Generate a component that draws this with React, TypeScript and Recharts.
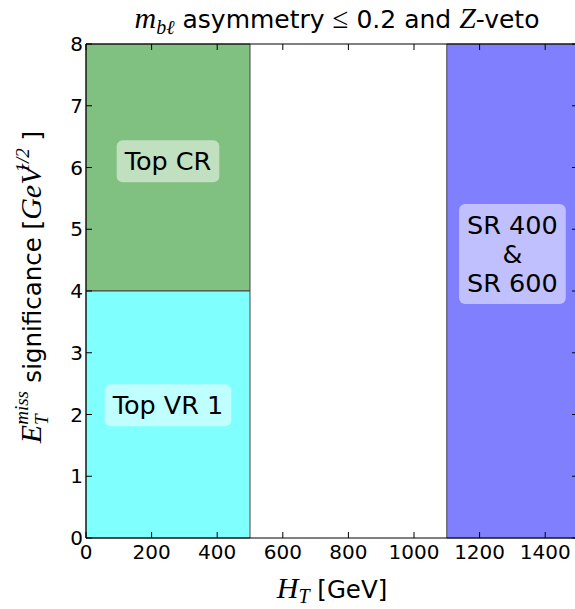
import { ComposedChart, XAxis, YAxis, ReferenceArea, ReferenceLine, Scatter } from 'recharts';

// regions of the (H_T, MET significance) plane
const regionNames = ['Top CR', 'Top VR 1', 'SR 400\n&\nSR 600'];
const regionX1 = [0, 0, 1100];
const regionX2 = [500, 500, 1500];
const regionY1 = [4, 0, 0];
const regionY2 = [8, 4, 8];
const regionColors = ['#80c080', '#80ffff', '#8080ff'];
const labelX = [250, 250, 1300];
const labelY = [6.1, 2.15, 4.6];

const xTicks = [0, 200, 400, 600, 800, 1000, 1200, 1400];
const yTicks = [0, 1, 2, 3, 4, 5, 6, 7, 8];
const X_MAX = 1500;
const Y_MAX = 8;

const SANS = 'DejaVu Sans';
const SERIF = 'Liberation Serif';

const labelPoints = regionNames.map((name, i) => ({ name, x: labelX[i], y: labelY[i] }));

// inward tick marks, ~6px long (plot is 492 x 494 px)
const TICK_X = (6 * X_MAX) / 492;
const TICK_Y = (6 * Y_MAX) / 494;

let ctx: CanvasRenderingContext2D | null = null;
function textWidth(s: string, size: number) {
  if (!ctx) ctx = document.createElement('canvas').getContext('2d');
  if (!ctx) return s.length * size * 0.6;
  ctx.font = `${size}px "${SANS}"`;
  return ctx.measureText(s).width;
}

const RegionLabel = (props: any) => {
  const { cx, cy, payload } = props;
  const lines: string[] = payload.name.split('\n');
  const fs = 25.5;
  const lh = 29;
  const w = Math.max(...lines.map((l) => textWidth(l, fs))) + 16;
  const h = lines.length * lh + 13;
  const top = cy - (lines.length * lh) / 2;
  return (
    <g>
      <rect x={cx - w / 2} y={cy - h / 2} width={w} height={h} rx={6} ry={6} fill="#fff" fillOpacity={0.5} />
      {lines.map((l, i) => (
        <text key={i} x={cx} y={top + i * lh + lh / 2} textAnchor="middle" dominantBaseline="central"
          fontFamily={SANS} fontSize={fs} fill="#000">{l}</text>
      ))}
    </g>
  );
};

const BottomTick = ({ x, y, payload }: any) => (
  <text x={x} y={y + 21} textAnchor="middle" fontFamily={SANS} fontSize={20} fill="#000">{payload.value}</text>
);
const LeftTick = ({ x, y, payload }: any) => (
  <text x={x - 3} y={y} textAnchor="end" dominantBaseline="central" fontFamily={SANS} fontSize={20} fill="#000">{payload.value}</text>
);
const NoTick = () => <g />;

const Title = ({ viewBox }: any) => (
  <text x={viewBox.x + viewBox.width / 2 + 5} y={viewBox.y - 15} textAnchor="middle" fontFamily={SANS} fontSize={25} fill="#000">
    <tspan fontFamily={SERIF} fontStyle="italic" fontSize={30}>m</tspan>
    <tspan fontFamily={SERIF} fontStyle="italic" fontSize={20} dy={6}>bℓ</tspan>
    <tspan dy={-6}> asymmetry </tspan>
    <tspan fontFamily={SERIF} fontSize={29}>≤</tspan>
    <tspan> 0.2 and </tspan>
    <tspan fontFamily={SERIF} fontStyle="italic" fontSize={30}>Z</tspan>
    <tspan>-veto</tspan>
  </text>
);

const XLabel = ({ viewBox }: any) => (
  <text x={viewBox.x + viewBox.width / 2} y={viewBox.y + 60} textAnchor="middle" fontFamily={SANS} fontSize={24.5} fill="#000">
    <tspan fontFamily={SERIF} fontStyle="italic" fontSize={30}>H</tspan>
    <tspan fontFamily={SERIF} fontStyle="italic" fontSize={20} dy={5}>T</tspan>
    <tspan dy={-5}> [GeV]</tspan>
  </text>
);

const YLabel = ({ viewBox }: any) => {
  const cx = 41;
  const cy = viewBox.y + viewBox.height / 2 - 4;
  return (
    <text x={cx} y={cy} transform={`rotate(-90 ${cx} ${cy})`} textAnchor="middle" fontFamily={SANS} fontSize={24.5} fill="#000">
      <tspan fontFamily={SERIF} fontStyle="italic" fontSize={30}>E</tspan>
      <tspan fontFamily={SERIF} fontStyle="italic" fontSize={19} dy={-13}>miss</tspan>
      <tspan fontFamily={SERIF} fontStyle="italic" fontSize={19} dx={-34} dy={20}>T</tspan>
      <tspan dx={24} dy={-7}>  significance [</tspan>
      <tspan fontFamily={SERIF} fontStyle="italic" fontSize={30}>GeV</tspan>
      <tspan fontFamily={SERIF} fontStyle="italic" fontSize={19} dx={-6} dy={-12}>1/2</tspan>
      <tspan dy={12}> ]</tspan>
    </text>
  );
};

export default function App() {
  return (
    <div style={{ position: 'absolute', left: 0, top: 0, width: 575, height: 609, overflow: 'hidden', background: '#fff' }}>
      <ComposedChart width={590} height={609} data={labelPoints} margin={{ top: 43, right: 11, bottom: 41, left: 0 }}>
        {regionNames.map((n, i) => (
          <ReferenceArea key={n} xAxisId="b" yAxisId="l" x1={regionX1[i]} x2={regionX2[i]} y1={regionY1[i]} y2={regionY2[i]}
            fill={regionColors[i]} fillOpacity={1} stroke="#444" strokeWidth={1} />
        ))}
        {xTicks.flatMap((t) => [
          <ReferenceLine key={'xb' + t} xAxisId="b" yAxisId="l" ifOverflow="visible" stroke="#000"
            segment={[{ x: t, y: 0 }, { x: t, y: TICK_Y }]} />,
          <ReferenceLine key={'xt' + t} xAxisId="b" yAxisId="l" ifOverflow="visible" stroke="#000"
            segment={[{ x: t, y: Y_MAX }, { x: t, y: Y_MAX - TICK_Y }]} />,
        ])}
        {yTicks.flatMap((t) => [
          <ReferenceLine key={'yl' + t} xAxisId="b" yAxisId="l" ifOverflow="visible" stroke="#000"
            segment={[{ x: 0, y: t }, { x: TICK_X, y: t }]} />,
          <ReferenceLine key={'yr' + t} xAxisId="b" yAxisId="l" ifOverflow="visible" stroke="#000"
            segment={[{ x: X_MAX, y: t }, { x: X_MAX - TICK_X, y: t }]} />,
        ])}
        <Scatter xAxisId="b" yAxisId="l" dataKey="y" data={labelPoints} shape={RegionLabel} isAnimationActive={false} />
        <XAxis xAxisId="b" dataKey="x" type="number" domain={[0, X_MAX]} ticks={xTicks} orientation="bottom" height={30}
          tickSize={0} tickMargin={0} tick={<BottomTick />} axisLine={{ stroke: '#000' }} tickLine={false}
          label={{ content: <XLabel /> }} interval={0} allowDataOverflow />
        <XAxis xAxisId="t" dataKey="x" type="number" domain={[0, X_MAX]} ticks={xTicks} orientation="top" height={1}
          tickSize={0} tickMargin={0} tick={<NoTick />} axisLine={{ stroke: '#000' }} tickLine={false}
          label={{ content: <Title /> }} interval={0} allowDataOverflow />
        <YAxis yAxisId="l" dataKey="y" type="number" domain={[0, Y_MAX]} ticks={yTicks} orientation="left" width={86}
          tickSize={0} tickMargin={0} tick={<LeftTick />} axisLine={{ stroke: '#000' }} tickLine={false}
          label={{ content: <YLabel /> }} interval={0} allowDataOverflow />
        <YAxis yAxisId="r" dataKey="y" type="number" domain={[0, Y_MAX]} ticks={yTicks} orientation="right" width={1}
          tickSize={0} tickMargin={0} tick={<NoTick />} axisLine={{ stroke: '#000' }} tickLine={false}
          interval={0} allowDataOverflow />
      </ComposedChart>
    </div>
  );
}
